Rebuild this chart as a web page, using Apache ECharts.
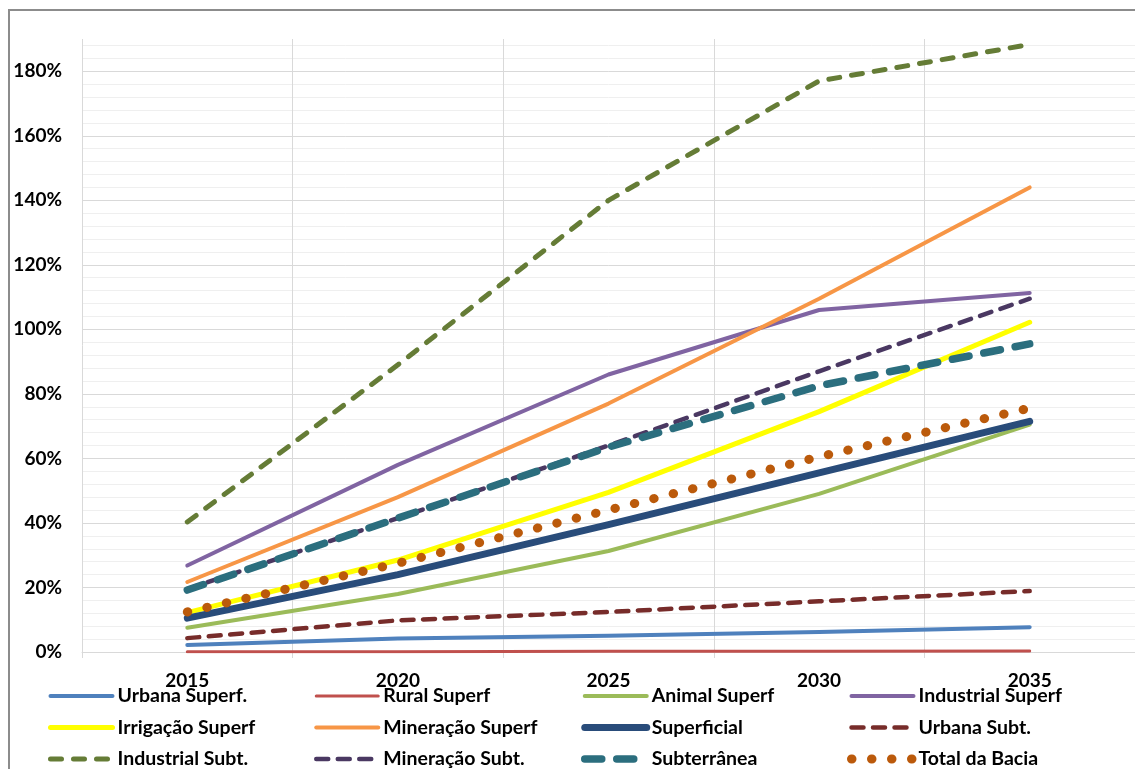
<!DOCTYPE html>
<html>
<head>
<meta charset="utf-8">
<script src="https://cdn.jsdelivr.net/npm/echarts@6/dist/echarts.min.js"></script>
<style>
  html, body { margin: 0; padding: 0; background: #ffffff; }
  #chart { width: 1135px; height: 769px; }
</style>
</head>
<body>
<div id="chart"></div>
<script>
// Anos do horizonte de planejamento
const years = ['2015', '2020', '2025', '2030', '2035'];

// Crescimento da demanda (%) por uso e fonte
const urbanaSuperf     = [2.2, 4.2, 5.0, 6.2, 7.7];
const ruralSuperf      = [0.1, 0.1, 0.2, 0.2, 0.3];
const animalSuperf     = [7.5, 18.0, 31.3, 49.0, 70.5];
const industrialSuperf = [26.8, 58.0, 86.0, 106.0, 111.3];
const irrigacaoSuperf  = [12.2, 28.5, 49.5, 74.5, 102.2];
const mineracaoSuperf  = [21.7, 48.0, 77.0, 109.5, 144.0];
const superficial      = [10.5, 24.0, 39.5, 55.5, 71.5];
const urbanaSubt       = [4.3, 9.8, 12.4, 15.7, 18.9];
const industrialSubt   = [40.3, 89.0, 140.0, 177.0, 188.3];
const mineracaoSubt    = [19.5, 41.5, 64.0, 87.0, 109.5];
const subterranea      = [19.2, 41.5, 63.5, 82.5, 95.5];
const totalBacia       = [12.4, 27.5, 44.0, 60.5, 75.6];

const FONT = 'Lato, "Open Sans", sans-serif';
const GRID_MAJOR = '#d9d9d9';
const GRID_MINOR = '#efefef';

function line(name, data, color, width, type) {
  return {
    name: name,
    type: 'line',
    data: data,
    yAxisIndex: 0,
    symbol: 'none',
    smooth: false,
    lineStyle: { color: color, width: width, type: type || 'solid', cap: 'round', join: 'round' },
    itemStyle: { color: color },
    emphasis: { disabled: true }
  };
}

const series = [
  line('Urbana Superf.', urbanaSuperf, '#4f81bd', 4),
  line('Rural Superf', ruralSuperf, '#c0504d', 3),
  line('Animal Superf', animalSuperf, '#9bbb59', 4),
  line('Industrial Superf', industrialSuperf, '#8064a2', 4),
  line('Irrigação Superf', irrigacaoSuperf, '#ffff00', 5),
  line('Mineração Superf', mineracaoSuperf, '#f79646', 4),
  line('Superficial', superficial, '#294c7a', 7),
  line('Urbana Subt.', urbanaSubt, '#772c2a', 4.5, [12, 9.5]),
  line('Industrial Subt.', industrialSubt, '#657c36', 5, [11, 12]),
  line('Mineração Subt.', mineracaoSubt, '#4a3862', 4.5, [12, 9.5]),
  line('Subterrânea', subterranea, '#2b6e7e', 7.5, [17, 15]),
  line('Total da Bacia', totalBacia, '#bb5a0b', 9, [0.5, 19.5])
];

const legendColumns = [
  { left: 48,  names: ['Urbana Superf.', 'Irrigação Superf', 'Industrial Subt.'] },
  { left: 314, names: ['Rural Superf', 'Mineração Superf', 'Mineração Subt.'] },
  { left: 581, names: ['Animal Superf', 'Superficial', 'Subterrânea'] },
  { left: 847, names: ['Industrial Superf', 'Urbana Subt.', 'Total da Bacia'] }
];

const legends = legendColumns.map(function (col) {
  return {
    data: col.names,
    orient: 'vertical',
    left: col.left,
    top: 686,
    padding: 0,
    itemWidth: 62,
    itemHeight: 19,
    itemGap: 11.5,
    selectedMode: false,
    lineStyle: { width: 'inherit' },
    itemStyle: { color: 'rgba(0,0,0,0)', borderWidth: 0, opacity: 0 },
    textStyle: { fontFamily: FONT, fontSize: 19.5, fontWeight: 'bold', color: '#000000', lineHeight: 19 }
  };
});

const chart = echarts.init(document.getElementById('chart'), null, { renderer: 'canvas' });
chart.setOption({
  animation: false,
  backgroundColor: '#ffffff',
  graphic: [{
    type: 'rect',
    shape: { x: 9, y: 10, width: 1200, height: 800 },
    style: { fill: 'none', stroke: '#8c8c8c', lineWidth: 2 },
    silent: true,
    z: -1
  }],
  grid: { left: 82, right: -7, top: 39, bottom: 117, containLabel: false },
  legend: legends,
  xAxis: {
    type: 'category',
    data: years,
    boundaryGap: true,
    axisLine: { show: true, lineStyle: { color: GRID_MAJOR, width: 1 } },
    axisTick: { show: true, length: 6, lineStyle: { color: GRID_MAJOR } },
    splitLine: { show: true, lineStyle: { color: GRID_MAJOR, width: 1 } },
    axisLabel: { margin: 19, fontFamily: FONT, fontSize: 19, fontWeight: 'bold', color: '#000000' }
  },
  yAxis: [
    {
      type: 'value',
      min: 0,
      max: 190,
      interval: 20,
      z: 1,
      axisLine: { show: false },
      axisTick: { show: false },
      splitLine: { show: true, showMaxLine: false, lineStyle: { color: GRID_MAJOR, width: 1 } },
      axisLabel: {
        margin: 20,
        showMaxLabel: false,
        formatter: '{value}%',
        fontFamily: FONT, fontSize: 19, fontWeight: 'bold', color: '#000000'
      }
    },
    {
      type: 'value',
      min: 0,
      max: 190,
      interval: 4,
      z: 0,
      position: 'left',
      axisLine: { show: false },
      axisTick: { show: false },
      axisLabel: { show: false },
      splitLine: { show: true, showMaxLine: false, lineStyle: { color: GRID_MINOR, width: 1 } }
    }
  ],
  series: series
});
</script>
</body>
</html>
